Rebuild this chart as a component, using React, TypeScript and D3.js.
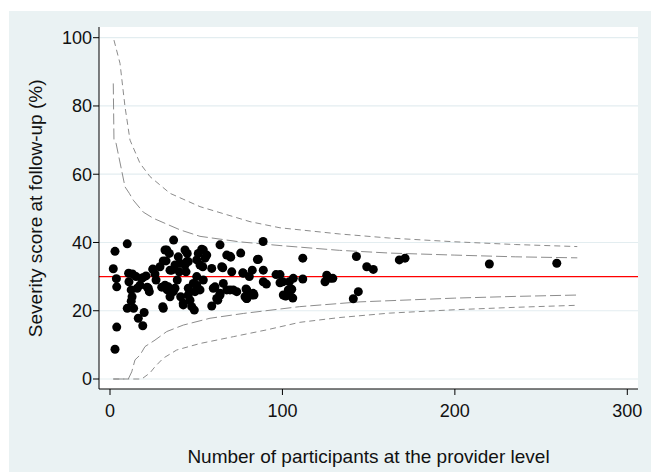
import React from 'react';
import * as d3 from 'd3';

// provider-level observations: [participants, severity %]
const providers: [number, number][] = [
  [2.9, 8.7], [3.9, 15.2], [2.9, 37.4], [1.9, 32.3], [3.7, 29.4], [3.9, 27.0],
  [10, 39.6], [10, 20.7], [10.8, 31.0], [13.0, 30.8], [11.0, 28.5], [12.3, 26.1],
  [12.8, 24.1], [12.3, 22.8], [13.7, 20.7], [15.8, 26.6], [16.4, 17.8], [19.0, 15.6],
  [19.8, 19.5], [15.1, 30.0], [18.4, 29.5], [20.9, 30.2], [21.6, 26.9], [22.8, 25.6],
  [25.0, 32.1], [26.1, 30.8], [26.7, 29.0], [29.0, 32.9], [30.9, 20.7], [30.0, 26.9],
  [32.5, 34.6], [32.9, 37.8], [34.4, 36.8], [33.2, 26.1], [34.8, 24.1], [35.8, 31.9],
  [36.9, 40.7], [37.7, 26.6], [39.0, 29.0], [39.6, 35.8], [40.6, 33.9], [40.2, 31.4],
  [41.0, 24.1], [42.5, 21.7], [43.5, 37.8], [44.8, 36.8], [44.5, 34.4], [44.1, 31.4],
  [45.4, 26.6], [46.4, 23.1], [48.9, 20.2], [48.3, 28.0], [50.3, 34.9], [50.3, 30.0],
  [52.2, 26.1], [53.2, 38.0], [53.8, 32.9], [51.2, 36.8], [54.1, 29.0], [56.1, 36.3],
  [59.0, 32.4], [59.9, 26.6], [59.0, 21.4], [61.9, 23.6], [63.8, 39.3], [64.8, 32.9],
  [63.8, 25.1], [65.7, 28.0], [67.7, 36.3], [69.6, 36.0], [70.6, 31.4], [69.6, 26.1],
  [73.5, 25.6], [75.8, 36.9], [77.0, 31.1], [79.3, 23.6], [80.8, 30.0], [82.5, 31.9],
  [83.5, 24.6], [85.5, 35.0], [88.8, 40.3], [111.8, 35.4], [142.9, 35.9], [148.9, 32.9],
  [152.7, 32.1], [125.7, 30.4], [127.6, 29.5], [124.7, 28.5], [129.2, 29.5], [111.8, 29.3],
  [98.6, 30.6], [96.3, 30.6], [106.3, 29.5], [104, 28.5], [98.6, 28.2], [90.7, 27.8],
  [88.9, 28.5], [105.4, 26.3], [104, 24.9], [106, 23.7], [101.8, 24.3], [83.1, 25.1],
  [62.5, 23.1], [141.1, 23.5], [144, 25.6], [167.8, 34.9], [171.1, 35.4], [220, 33.7],
  [259.1, 33.9], [86, 35.1], [65.4, 32.6], [77.3, 31.0], [88.9, 31.9], [60.9, 27.0],
  [67.7, 26.1], [78.9, 26.4], [78.3, 24.1], [82.2, 24.6], [63.8, 24.6], [50.3, 27.5],
  [100.5, 24.6], [54.1, 37.8], [55.1, 35.4], [52.2, 33.4], [17.4, 27.5], [19.0, 29.7],
  [22.2, 26.6], [24.8, 32.2], [31.9, 37.8], [30.9, 34.6], [34.8, 31.9], [30.6, 21.2],
  [31.9, 27.5], [33.8, 27.0], [36.7, 25.6], [37.7, 33.4], [42.5, 22.2], [45.4, 24.6],
  [47.4, 21.2], [45.4, 34.4], [43.5, 33.4], [49.3, 25.6], [102.1, 24.4], [103.4, 26.1],
  [100.2, 28.5], [71.5, 26.1], [79.3, 26.1], [79.3, 23.6], [70, 35.7]
];

const overallMean = 30;

// control limits
const upper95: [number, number][] = [
  [1.9, 86.6], [2.3, 70.0], [3.5, 69.1], [8.7, 56.3], [11.2, 54.4], [13.5, 52.4],
  [19.3, 48.9], [25.1, 47.1], [40.6, 43.7], [52.2, 41.8], [75, 40.2], [98.6, 39.1],
  [133, 37.7], [162, 36.9], [200, 36.3], [235, 35.8], [271, 35.5]
];
const upper998: [number, number][] = [
  [2.3, 99.3], [5.8, 92.5], [8.7, 79.8], [11.6, 70.0], [17.4, 63.2], [23.2, 59.3],
  [34.8, 54.4], [52.2, 50.5], [81.2, 46.1], [98.6, 44.3], [133, 42.5], [162, 41.3],
  [200, 40.2], [235, 39.4], [271, 38.8]
];
const lower95: [number, number][] = [
  [1.9, 0], [10.6, 0], [12.6, 2.1], [14.5, 5.6], [17.4, 7.0], [20.3, 9.5], [26.1, 11.4],
  [32.9, 13.9], [42.5, 15.8], [58, 17.8], [77.3, 19.2], [110, 21.2], [145, 22.6],
  [200, 23.7], [235, 24.2], [271, 24.6]
];
const lower998: [number, number][] = [
  [1.9, 0], [18.4, 0], [23.2, 1.8], [26.1, 3.6], [30.9, 6.1], [38.7, 8.5], [52.2, 10.4],
  [71.5, 12.4], [90.9, 14.4], [110, 16.6], [133, 18.0], [162, 19.3], [200, 20.3],
  [235, 21.0], [271, 21.6]
];

const xTicks = [0, 100, 200, 300];
const yTicks = [0, 20, 40, 60, 80, 100];

const W = 651;
const H = 472;
const plot = { left: 99, right: 638, top: 27, bottom: 389 };
const font = '"Liberation Sans", Arial, Helvetica, sans-serif';

export default function App() {
  const x = d3.scaleLinear().domain([0, 300]).range([110, 627.3]);
  const y = d3.scaleLinear().domain([0, 100]).range([379, 37.7]);

  const line = d3.line<[number, number]>()
    .x(d => x(d[0]))
    .y(d => y(d[1]));

  const limitStyle = { fill: 'none', stroke: '#8c8c8c', strokeWidth: 1 };

  return (
    <svg width={W} height={H} style={{ position: 'absolute', left: 0, top: 0 }} fontFamily={font}>
      <rect x={9} y={11} width={W - 9} height={H - 11} fill="#eaf2f3" />
      <rect x={plot.left} y={plot.top} width={plot.right - plot.left} height={plot.bottom - plot.top} fill="#fff" />

      {/* gridlines */}
      {yTicks.map(t => (
        <line key={'g' + t} x1={plot.left} x2={plot.right} y1={y(t)} y2={y(t)} stroke="#e3edf0" strokeWidth={1.2} />
      ))}

      {/* mean */}
      <line x1={plot.left} x2={plot.right} y1={y(overallMean)} y2={y(overallMean)} stroke="#ff0000" strokeWidth={1.4} />

      {/* funnel limits */}
      <path d={line(upper998) || ''} {...limitStyle} strokeDasharray="6,4" />
      <path d={line(lower998) || ''} {...limitStyle} strokeDasharray="6,4" />
      <path d={line(upper95) || ''} {...limitStyle} strokeDasharray="11,4" />
      <path d={line(lower95) || ''} {...limitStyle} strokeDasharray="11,4" />

      {/* providers */}
      {providers.map((d, i) => (
        <circle key={i} cx={x(d[0])} cy={y(d[1])} r={4.5} fill="#000" />
      ))}

      {/* axes */}
      <line x1={plot.left} x2={plot.left} y1={plot.top} y2={plot.bottom} stroke="#000" strokeWidth={1} />
      <line x1={plot.left} x2={plot.right} y1={plot.bottom} y2={plot.bottom} stroke="#000" strokeWidth={1} />
      {yTicks.map(t => (
        <g key={'y' + t}>
          <line x1={plot.left - 6} x2={plot.left} y1={y(t)} y2={y(t)} stroke="#000" />
          <text x={plot.left - 7} y={y(t)} dy="0.36em" textAnchor="end" fontSize={18} fill="#111">{t}</text>
        </g>
      ))}
      {xTicks.map(t => (
        <g key={'x' + t}>
          <line x1={x(t)} x2={x(t)} y1={plot.bottom} y2={plot.bottom + 6} stroke="#000" />
          <text x={x(t)} y={417} textAnchor="middle" fontSize={18} fill="#111">{t}</text>
        </g>
      ))}

      <text x={(plot.left + plot.right) / 2} y={463} textAnchor="middle" fontSize={19} fill="#111">
        Number of participants at the provider level
      </text>
      <text transform={`translate(42, ${y(50)}) rotate(-90)`} textAnchor="middle" fontSize={19} fill="#111">
        Severity score at follow-up (%)
      </text>
    </svg>
  );
}
